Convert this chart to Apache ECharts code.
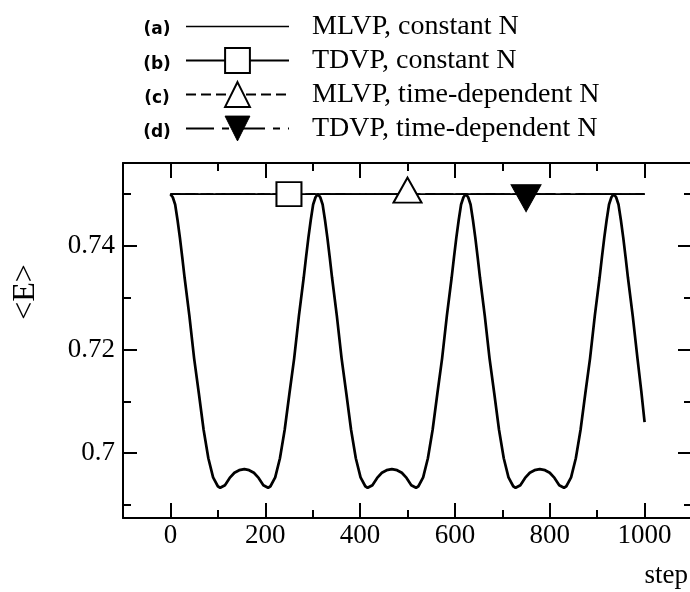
<!DOCTYPE html>
<html><head><meta charset="utf-8">
<script src="https://cdn.jsdelivr.net/npm/echarts@6/dist/echarts.min.js"></script>
<style>html,body{margin:0;padding:0;background:#fff}#c{width:690px;height:592px}</style>
</head><body><div id="c"></div>
<script>
// ---- data ----
const steps = [0,5,10,15,20,25,30,40,50,60,70,80,90,100,105,115,125,135,145,156,166,176,186,196,206,211,221,231,241,251,261,271,281,286,291,296,301,306,311,
  316,321,326,331,336,341,351,361,371,381,391,401,411,416,426,436,446,456,467,478,488,498,508,518,523,533,543,553,563,573,583,593,598,603,608,613,618,623,
  628,633,638,643,648,653,663,673,683,693,703,713,723,728,738,748,758,768,779,790,800,810,820,830,835,845,855,865,875,885,895,905,910,915,920,925,930,935,
  940,945,950,955,960,965,975,985,993,1000];
const energyMLVPconst = [0.7500,0.7494,0.7480,0.7450,0.7416,0.7378,0.7338,0.7265,0.7183,0.7115,0.7045,0.6990,0.6953,0.6936,0.6933,0.6938,0.6952,0.6962,0.6967,0.6969,0.6967,0.6962,0.6952,0.6938,0.6933,0.6936,0.6953,0.6990,0.7045,0.7115,0.7183,0.7265,0.7338,0.7378,0.7416,0.7450,0.7480,0.7494,0.7500,
  0.7494,0.7480,0.7450,0.7416,0.7378,0.7338,0.7265,0.7183,0.7115,0.7045,0.6990,0.6953,0.6936,0.6933,0.6938,0.6952,0.6962,0.6967,0.6969,0.6967,0.6962,0.6952,0.6938,0.6933,0.6936,0.6953,0.6990,0.7045,0.7115,0.7183,0.7265,0.7338,0.7378,0.7416,0.7450,0.7480,0.7494,0.7500,
  0.7494,0.7480,0.7450,0.7416,0.7378,0.7338,0.7265,0.7183,0.7115,0.7045,0.6990,0.6953,0.6936,0.6933,0.6938,0.6952,0.6962,0.6967,0.6969,0.6967,0.6962,0.6952,0.6938,0.6933,0.6936,0.6953,0.6990,0.7045,0.7115,0.7183,0.7265,0.7338,0.7378,0.7416,0.7450,0.7480,0.7494,0.7500,
  0.7494,0.7480,0.7450,0.7416,0.7378,0.7338,0.7265,0.7183,0.7120,0.7060];
const flatSteps = [0, 1000];          // TDVP / time-dependent runs stay at 0.75
const flatEnergy = 0.75;
const markerSteps = [250, 500, 750]; // marker positions of (b), (c), (d)
const seriesNames = ['MLVP, constant N', 'TDVP, constant N', 'MLVP, time-dependent N', 'TDVP, time-dependent N'];
const legendTags = ['(a)', '(b)', '(c)', '(d)'];
const xTicksMajor = [0, 200, 400, 600, 800, 1000];
const xTicksMinor = [100, 300, 500, 700, 900];
const yTicksMajor = [0.70, 0.72, 0.74];
const yTicksMinor = [0.69, 0.71, 0.73, 0.75];
const xRange = [-100, 1100];
const yRange = [0.68747, 0.75601];
const xTitle = 'step';
const yTitle = '<E>';

// ---- chart ----
const SERIF = '"Liberation Serif", "Times New Roman", serif';
const chart = echarts.init(document.getElementById('c'), null, {renderer: 'canvas'});

function xAx(position, ticks, len, showLine, showLabels) {
  return {
    type: 'value', position: position, min: xRange[0], max: xRange[1], gridIndex: 0,
    axisLine: {show: showLine, onZero: false, lineStyle: {color: '#000', width: 2}},
    axisTick: {show: true, inside: true, length: len, customValues: ticks, lineStyle: {color: '#000', width: 2}},
    axisLabel: showLabels ? {show: true, customValues: ticks, margin: 4, color: '#000', fontFamily: SERIF, fontSize: 27,
      formatter: v => String(Math.round(v))} : {show: false},
    splitLine: {show: false}, minorTick: {show: false}
  };
}
function yAx(position, ticks, len, showLine, showLabels) {
  return {
    type: 'value', position: position, min: yRange[0], max: yRange[1], gridIndex: 0,
    axisLine: {show: showLine, onZero: false, lineStyle: {color: '#000', width: 2}},
    axisTick: {show: true, inside: true, length: len, customValues: ticks, lineStyle: {color: '#000', width: 2}},
    axisLabel: showLabels ? {show: true, customValues: ticks, margin: 8, color: '#000', fontFamily: SERIF, fontSize: 27,
      formatter: v => String(+v.toFixed(2))} : {show: false},
    splitLine: {show: false}, minorTick: {show: false}
  };
}

function flatData(markerStep) {
  return [
    {value: [flatSteps[0], flatEnergy], symbol: 'none'},
    {value: [markerStep, flatEnergy]},
    {value: [flatSteps[1], flatEnergy], symbol: 'none'}
  ];
}

const rowY = [26.5, 61, 95, 129];

const option = {
  backgroundColor: '#fff',
  animation: false,
  textStyle: {fontFamily: SERIF, color: '#000'},
  grid: {left: 123, top: 163, width: 569, height: 355, containLabel: false, outerBoundsMode: 'none'},
  xAxis: [
    xAx('bottom', xTicksMajor, 15, true, true),
    xAx('bottom', xTicksMinor, 8, false, false),
    xAx('top', xTicksMajor, 15, true, false),
    xAx('top', xTicksMinor, 8, false, false)
  ],
  yAxis: [
    yAx('left', yTicksMajor, 14, true, true),
    yAx('left', yTicksMinor, 8, false, false),
    yAx('right', yTicksMajor, 14, true, false),
    yAx('right', yTicksMinor, 8, false, false)
  ],
  legend: {
    orient: 'vertical', left: 185, top: 9.5, padding: 0,
    itemWidth: 103, itemHeight: 31, itemGap: 0, selectedMode: false,
    textStyle: {fontFamily: SERIF, fontSize: 28, lineHeight: 34, color: '#000', padding: [0, 0, 0, 18]},
    data: [
      {name: seriesNames[0], icon: 'path://M0 0L0 0M0 11.7L100 11.7L100 13.3L0 13.3ZM0 25L0 25', itemStyle: {color: '#000', borderWidth: 0}},
      {name: seriesNames[1], itemStyle: {color: '#fff', borderColor: '#000', borderWidth: 2}},
      {name: seriesNames[2], itemStyle: {color: '#fff', borderColor: '#000', borderWidth: 2}},
      {name: seriesNames[3], itemStyle: {color: '#000', borderColor: '#000', borderWidth: 1}}
    ]
  },
  graphic: [
    ...legendTags.map((t, i) => ({
      type: 'text', x: 157, y: rowY[i] + 3.5,
      style: {text: t, font: 'bold 17px "DejaVu Sans", sans-serif', fill: '#000', align: 'center', verticalAlign: 'middle'}
    })),
    {type: 'text', x: 26, y: 292, rotation: Math.PI / 2,
      style: {text: yTitle, font: '32px ' + SERIF, fill: '#000', align: 'center', verticalAlign: 'middle'}},
    {type: 'text', x: 688, y: 576,
      style: {text: xTitle, font: '27px ' + SERIF, fill: '#000', align: 'right', verticalAlign: 'middle'}}
  ],
  series: [
    {
      name: seriesNames[0], type: 'line', xAxisIndex: 0, yAxisIndex: 0,
      data: steps.map((s, i) => [s, energyMLVPconst[i]]),
      symbol: 'none', color: '#000',
      lineStyle: {color: '#000', width: 2.7}, itemStyle: {color: '#000'}, z: 2
    },
    {
      name: seriesNames[1], type: 'line', xAxisIndex: 0, yAxisIndex: 0,
      data: flatData(markerSteps[0]), showSymbol: true, showAllSymbol: true,
      symbol: 'rect', symbolSize: [25, 24], color: '#000',
      lineStyle: {color: '#000', width: 1.7, type: 'solid'},
      itemStyle: {color: '#fff', borderColor: '#000', borderWidth: 2}, z: 3
    },
    {
      name: seriesNames[2], type: 'line', xAxisIndex: 0, yAxisIndex: 0,
      data: flatData(markerSteps[1]), showSymbol: true, showAllSymbol: true,
      symbol: 'triangle', symbolSize: [28, 25], symbolOffset: [0, -4], color: '#000',
      lineStyle: {color: '#000', width: 1.7, type: [10, 5]},
      itemStyle: {color: '#fff', borderColor: '#000', borderWidth: 2}, z: 3
    },
    {
      name: seriesNames[3], type: 'line', xAxisIndex: 0, yAxisIndex: 0,
      data: flatData(markerSteps[2]), showSymbol: true, showAllSymbol: true,
      symbol: 'triangle', symbolRotate: 180, symbolSize: [30, 27], symbolOffset: [0, 4], color: '#000',
      lineStyle: {color: '#000', width: 1.7, type: [28, 8, 7, 8]},
      itemStyle: {color: '#000', borderColor: '#000', borderWidth: 1}, z: 3
    }
  ]
};
chart.setOption(option);
</script></body></html>
